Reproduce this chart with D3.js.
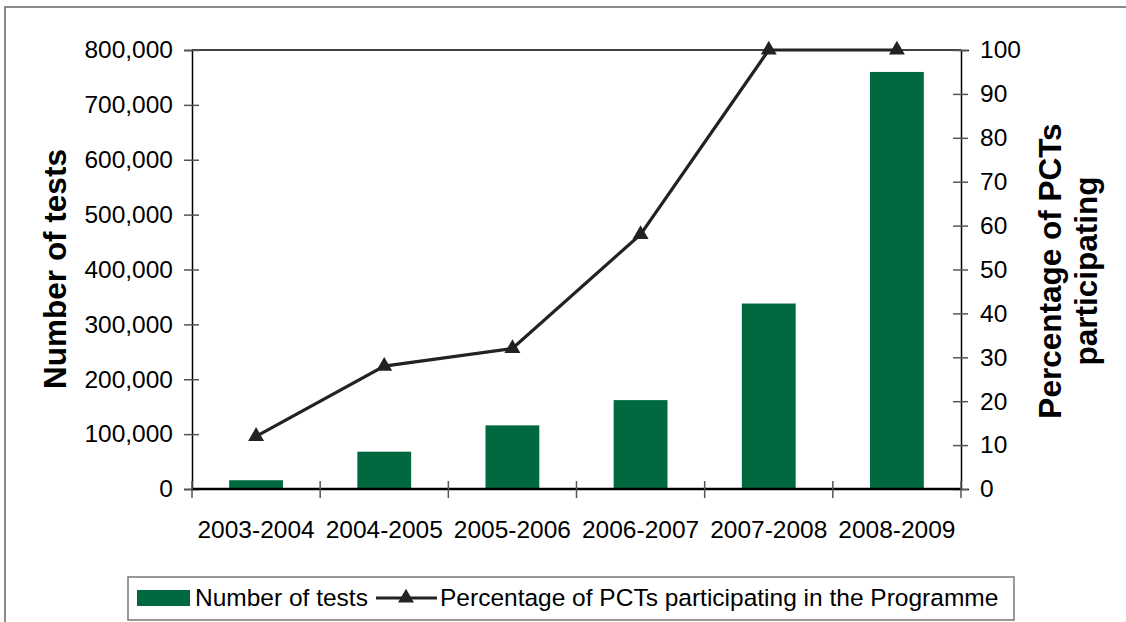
<!DOCTYPE html>
<html>
<head>
<meta charset="utf-8">
<script src="https://cdn.jsdelivr.net/npm/d3@7"></script>
<style>
  body { margin: 0; background: #fff; }
  svg { display: block; font-family: "Liberation Sans", Arial, sans-serif; }
</style>
</head>
<body>
<svg id="chart" width="1126" height="622"></svg>
<script>
const years = ["2003-2004", "2004-2005", "2005-2006", "2006-2007", "2007-2008", "2008-2009"];
const tests = [16000, 68000, 116000, 162000, 338000, 760000];
const pctParticipating = [12, 28, 32, 58, 100, 100];
const leftTicks = [0, 100000, 200000, 300000, 400000, 500000, 600000, 700000, 800000];
const rightTicks = [0, 10, 20, 30, 40, 50, 60, 70, 80, 90, 100];

const svg = d3.select("#chart");
const plotL = 192, plotR = 961, plotT = 50, plotB = 489;
const green = "#006940";
const fs = 24.5;

// outer frame
svg.append("path")
    .attr("d", "M5,622 V7 H1126")
    .attr("fill", "none")
    .attr("stroke", "#8a8a8a")
    .attr("stroke-width", 2);

const xCat = d3.scaleBand().domain(years).range([plotL, plotR]);
const xBar = d3.scaleBand().domain(years).range([plotL, plotR]).paddingInner(0.58).paddingOuter(0.29);
const yLeft = d3.scaleLinear().domain([0, 800000]).range([plotB, plotT]);
const yRight = d3.scaleLinear().domain([0, 100]).range([plotB, plotT]);

// bars
svg.selectAll("rect.bar")
    .data(years)
    .enter().append("rect")
    .attr("class", "bar")
    .attr("x", d => xBar(d))
    .attr("y", (d, i) => yLeft(tests[i]))
    .attr("width", xBar.bandwidth())
    .attr("height", (d, i) => plotB - yLeft(tests[i]))
    .attr("fill", green);

// plot frame top
svg.append("line")
    .attr("x1", plotL).attr("x2", plotR)
    .attr("y1", plotT).attr("y2", plotT)
    .attr("stroke", "#000").attr("stroke-width", 1.5);

// left axis
const gl = svg.append("g").attr("transform", `translate(${plotL},0)`)
    .call(d3.axisLeft(yLeft).tickValues(leftTicks).tickFormat(d3.format(",")).tickSize(8).tickPadding(11));
gl.select(".domain").attr("stroke", "#000").attr("stroke-width", 1.5);
gl.selectAll(".tick line").attr("x2", 7).attr("x1", -8).attr("stroke", "#555").attr("stroke-width", 1.5);
gl.selectAll(".tick text").attr("font-size", fs).attr("fill", "#000").attr("font-family", "Liberation Sans, Arial, sans-serif");

// right axis
const gr = svg.append("g").attr("transform", `translate(${plotR},0)`)
    .call(d3.axisRight(yRight).tickValues(rightTicks).tickSize(8).tickPadding(11));
gr.select(".domain").attr("stroke", "#000").attr("stroke-width", 1.5);
gr.selectAll(".tick line").attr("x1", -8).attr("x2", 7).attr("stroke", "#555").attr("stroke-width", 1.5);
gr.selectAll(".tick text").attr("font-size", fs).attr("fill", "#000").attr("font-family", "Liberation Sans, Arial, sans-serif");

// bottom axis with ticks at category boundaries
svg.append("line")
    .attr("x1", plotL).attr("x2", plotR)
    .attr("y1", plotB).attr("y2", plotB)
    .attr("stroke", "#000").attr("stroke-width", 2.5);
const bounds = years.map(d => xCat(d)).concat([plotR]);
svg.selectAll("line.xtick")
    .data(bounds)
    .enter().append("line")
    .attr("class", "xtick")
    .attr("x1", d => d).attr("x2", d => d)
    .attr("y1", plotB - 8).attr("y2", plotB + 9)
    .attr("stroke", "#555").attr("stroke-width", 1.5);
svg.selectAll("text.xlabel")
    .data(years)
    .enter().append("text")
    .attr("class", "xlabel")
    .attr("x", d => xCat(d) + xCat.bandwidth() / 2)
    .attr("y", 538)
    .attr("text-anchor", "middle")
    .attr("font-size", fs)
    .text(d => d);

// line series
const line = d3.line()
    .x((d, i) => xCat(years[i]) + xCat.bandwidth() / 2)
    .y(d => yRight(d));
svg.append("path")
    .datum(pctParticipating)
    .attr("d", line)
    .attr("fill", "none")
    .attr("stroke", "#222")
    .attr("stroke-width", 3.2);
const tri = d3.symbol().type(d3.symbolTriangle).size(110);
svg.selectAll("path.marker")
    .data(pctParticipating)
    .enter().append("path")
    .attr("class", "marker")
    .attr("d", tri)
    .attr("transform", (d, i) => `translate(${xCat(years[i]) + xCat.bandwidth() / 2},${yRight(d)})`)
    .attr("fill", "#222");

// axis titles
svg.append("text")
    .attr("transform", "translate(66,269) rotate(-90)")
    .attr("text-anchor", "middle")
    .attr("font-size", 31.5)
    .attr("font-weight", "bold")
    .text("Number of tests");
svg.append("text")
    .attr("transform", "translate(1061,271) rotate(-90)")
    .attr("text-anchor", "middle")
    .attr("font-size", 31.5)
    .attr("font-weight", "bold")
    .text("Percentage of PCTs");
svg.append("text")
    .attr("transform", "translate(1097,271) rotate(-90)")
    .attr("text-anchor", "middle")
    .attr("font-size", 31.5)
    .attr("font-weight", "bold")
    .text("participating");

// legend
const lg = svg.append("g");
lg.append("rect")
    .attr("x", 128).attr("y", 577)
    .attr("width", 886).attr("height", 43)
    .attr("fill", "#fff")
    .attr("stroke", "#777").attr("stroke-width", 1.5);
lg.append("rect")
    .attr("x", 137).attr("y", 590)
    .attr("width", 53).attr("height", 16)
    .attr("fill", green);
lg.append("text")
    .attr("x", 195).attr("y", 606)
    .attr("font-size", fs)
    .text("Number of tests");
lg.append("line")
    .attr("x1", 376).attr("x2", 437)
    .attr("y1", 598).attr("y2", 598)
    .attr("stroke", "#222").attr("stroke-width", 3.2);
lg.append("path")
    .attr("d", tri)
    .attr("transform", "translate(406,598)")
    .attr("fill", "#222");
lg.append("text")
    .attr("x", 440).attr("y", 606)
    .attr("font-size", fs)
    .text("Percentage of PCTs participating in the Programme");
</script>
</body>
</html>
